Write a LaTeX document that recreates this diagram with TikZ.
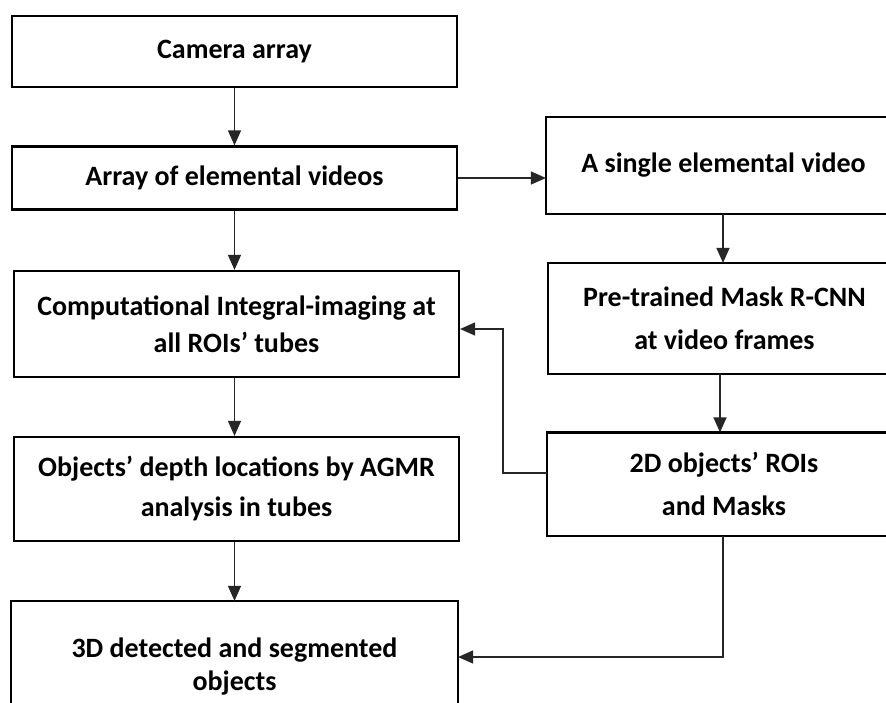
\documentclass[tikz,border=0pt]{standalone}
\usepackage{fontspec}
\setmainfont{Carlito}
\usetikzlibrary{arrows.meta,calc}

\tikzset{
  stage/.style={draw=black, line width=2.2pt, fill=white, rectangle,
    inner sep=0pt, align=center, font=\bfseries\fontsize{28}{#1}\selectfont},
  stage/.default=38,
  % boxes running past the page edge: outline drawn separately
  openstage/.style={stage=#1, draw=none},
  openstage/.default=38,
  frame/.style={draw=black, line width=2.2pt},
  flow/.style={draw=black!85, line width=1.3pt,
    -{Triangle[length=15pt,width=13pt]}},
}

\begin{document}
\begin{tikzpicture}[x=1pt, y=-1pt]
  \fill[white] (0,0) rectangle (886,702);
  \useasboundingbox (0,0) rectangle (886,702);
  \coordinate (edge) at (890,0);

  % left column
  \node[stage, minimum width=445pt, minimum height=71pt] (cam) at (234.5,51.5) {Camera array};
  \node[stage, minimum width=445pt, minimum height=63pt] (arr) at (234.5,178) {Array of elemental videos};
  \node[stage=37, minimum width=445pt, minimum height=106pt] (comp) at (236.5,324) {Computational Integral-imaging at\\all ROIs’ tubes};
  \node[stage=40, minimum width=445pt, minimum height=104pt] (depth) at (236.5,489) {Objects’ depth locations by AGMR\\analysis in tubes};
  \node[openstage=33, minimum width=445pt, minimum height=130pt] (obj) at (234.5,667) {3D detected and segmented\\objects};
  \draw[frame] (obj.west |- 0,704) -- (obj.north west) -- (obj.north east) -- (obj.east |- 0,704);

  % right column
  \node[openstage, minimum width=353pt, minimum height=95pt] (single) at (723.5,165.5) {A single elemental video};
  \node[openstage=43, minimum width=351pt, minimum height=109pt] (mrcnn) at (724.5,318.5) {Pre-trained Mask R-CNN\\at video frames};
  \node[openstage=43, minimum width=352pt, minimum height=101pt] (rois) at (724,484) {2D objects’ ROIs\\and Masks};
  \foreach \b in {single,mrcnn,rois}
    \draw[frame] (edge |- \b.north) -- (\b.north west) -- (\b.south west) -- (edge |- \b.south);

  % connectors
  \draw[flow] (cam.south) -- (cam.south |- arr.north);
  \draw[flow] (arr.south) -- (arr.south |- comp.north);
  \draw[flow] (arr.south |- comp.south) -- (arr.south |- depth.north);
  \draw[flow] (arr.south |- depth.south) -- (obj.north);
  \draw[flow] (arr.east) -- (arr.east -| single.west);
  \coordinate (rc1) at (723,0);
  \coordinate (rc2) at (720,0);
  \draw[flow] (rc1 |- single.south) -- (rc1 |- mrcnn.north);
  \draw[flow] (rc2 |- mrcnn.south) -- (rc2 |- rois.north);
  \coordinate (fbx) at (503,0);
  \draw[flow] (rois.west |- 0,473) -- (fbx |- 0,473) -- (fbx |- 0,329) -- (comp.east |- 0,329);
  \draw[flow] (rc1 |- rois.south) -- (723,657) -- (obj.east |- 0,657);
\end{tikzpicture}
\end{document}
